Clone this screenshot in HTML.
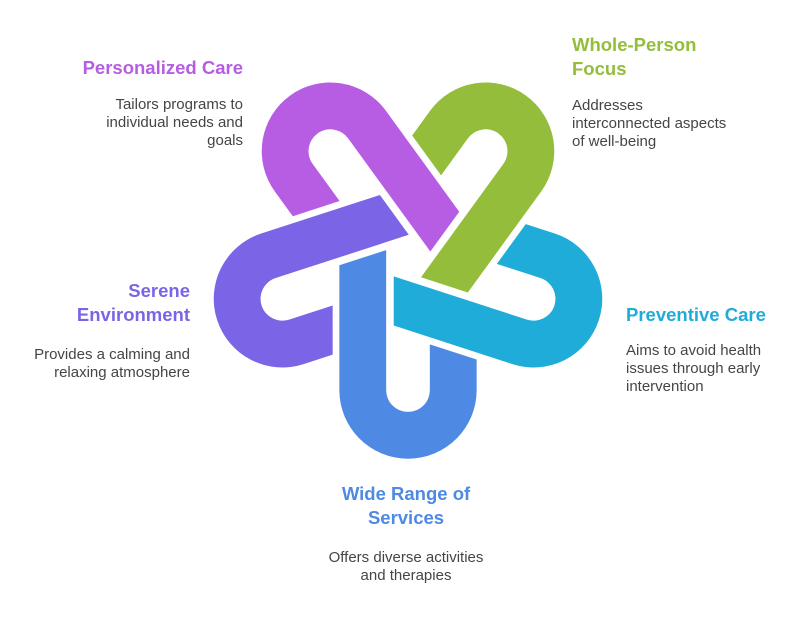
<!DOCTYPE html>
<html><head><meta charset="utf-8"><style>
html,body{margin:0;padding:0;background:#fff;}
svg{display:block;}
.t{font-family:"Liberation Sans",sans-serif;font-weight:bold;font-size:18.5px;}
.d{font-family:"Liberation Sans",sans-serif;font-size:15px;fill:#454545;}
</style></head><body>
<svg width="804" height="624" viewBox="0 0 804 624" xmlns="http://www.w3.org/2000/svg">
<defs>
<path id="hk" d="M -66 7 L -21 -7.6 L -21 127 A 21 21 0 0 0 21 127 L 21 83 L 66 97.6 L 66 127 A 66 66 0 0 1 -66 127 Z"/>
</defs>
<g transform="translate(408,258) scale(1.04)">
<use href="#hk" fill="#4e89e4"/>
<use href="#hk" fill="#20acd9" transform="rotate(-72)"/>
<use href="#hk" fill="#93bd3b" transform="rotate(-144)"/>
<use href="#hk" fill="#b65de3" transform="rotate(144)"/>
<use href="#hk" fill="#7b65e6" transform="rotate(72)"/>
</g>
<text class="t" fill="#b65de3" x="243" y="74" text-anchor="end">Personalized Care</text>
<text class="d" text-anchor="end"><tspan x="243" y="109">Tailors programs to</tspan><tspan x="243" y="127">individual needs and</tspan><tspan x="243" y="145">goals</tspan></text>

<text class="t" fill="#93bd3b"><tspan x="572" y="51">Whole-Person</tspan><tspan x="572" y="75">Focus</tspan></text>
<text class="d"><tspan x="572" y="110">Addresses</tspan><tspan x="572" y="128">interconnected aspects</tspan><tspan x="572" y="146">of well-being</tspan></text>

<text class="t" fill="#7b65e6" text-anchor="end"><tspan x="190" y="297">Serene</tspan><tspan x="190" y="321">Environment</tspan></text>
<text class="d" text-anchor="end"><tspan x="190" y="359">Provides a calming and</tspan><tspan x="190" y="377">relaxing atmosphere</tspan></text>

<text class="t" fill="#20acd9" x="626" y="321">Preventive Care</text>
<text class="d"><tspan x="626" y="355">Aims to avoid health</tspan><tspan x="626" y="373">issues through early</tspan><tspan x="626" y="391">intervention</tspan></text>

<text class="t" fill="#4e89e4" text-anchor="middle"><tspan x="406" y="500">Wide Range of</tspan><tspan x="406" y="524">Services</tspan></text>
<text class="d" text-anchor="middle"><tspan x="406" y="562">Offers diverse activities</tspan><tspan x="406" y="580">and therapies</tspan></text>
</svg>
</body></html>
